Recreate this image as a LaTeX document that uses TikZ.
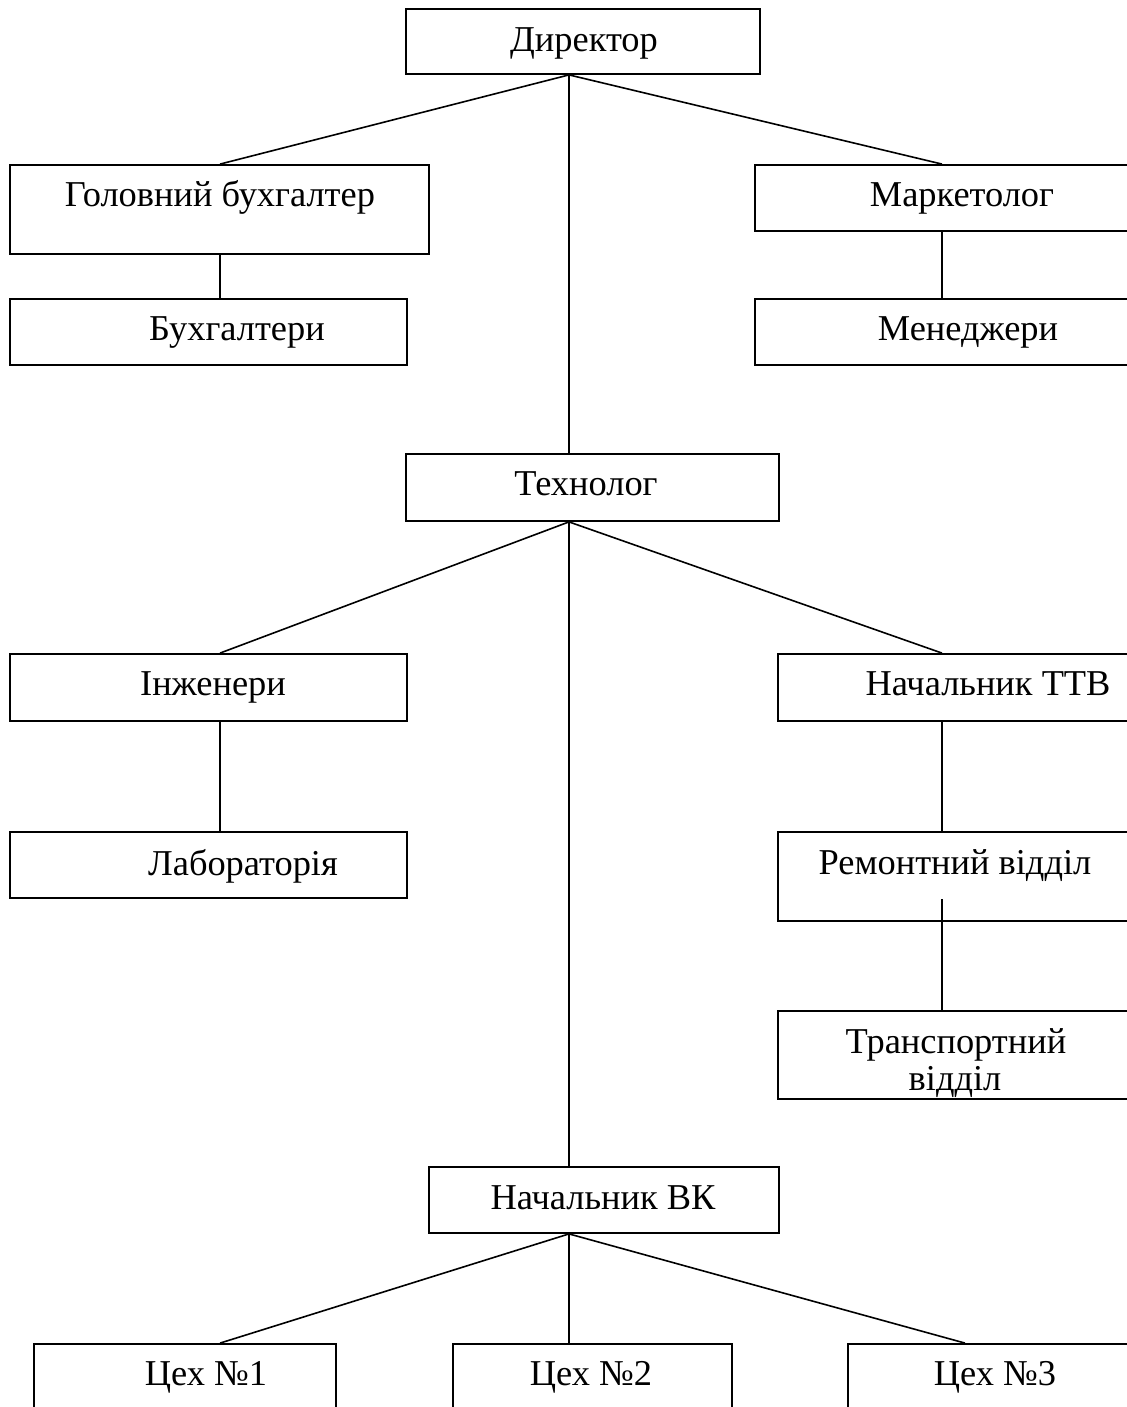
\documentclass[tikz,border=0pt]{standalone}
\usepackage{fontspec}
\setmainfont{Liberation Serif}
\usetikzlibrary{fit}

\begin{document}
\begin{tikzpicture}[x=0.5pt, y=-0.5pt, line width=0.8pt,
        box/.style={draw, rectangle, inner sep=0pt, line width=0.9pt},
        txt/.style={anchor=base, inner sep=0pt, font=\fontsize{18.2}{20}\selectfont}]
        \useasboundingbox (0,0) rectangle (1127,1407);

        % boxes
        \node[box, fit={(406,9) (760,74)}] (dir) {};
        \node[box, fit={(10,165) (429,254)}] (gb) {};
        \node[box, fit={(755,165) (1135,231)}] (mark) {};
        \node[box, fit={(10,299) (407,365)}] (buh) {};
        \node[box, fit={(755,299) (1135,365)}] (men) {};
        \node[box, fit={(406,454) (779,521)}] (tech) {};
        \node[box, fit={(10,654) (407,721)}] (ing) {};
        \node[box, fit={(778,654) (1135,721)}] (ttv) {};
        \node[box, fit={(10,832) (407,898)}] (lab) {};
        \node[box, fit={(778,832) (1135,921)}] (rem) {};
        \node[box, fit={(778,1011) (1135,1099)}] (trans) {};
        \node[box, fit={(429,1167) (779,1233)}] (vk) {};
        \node[box, fit={(34,1344) (336,1420)}] (c1) {};
        \node[box, fit={(453,1344) (732,1420)}] (c2) {};
        \node[box, fit={(848,1344) (1135,1420)}] (c3) {};

        % texts
        \node[txt] (dir-t) at (584,52) {Директор};
        \node[txt] (gb-t) at (220,206) {Головний бухгалтер};
        \node[txt] (mark-t) at (962,206) {Маркетолог};
        \node[txt] (buh-t) at (237,340) {Бухгалтери};
        \node[txt] (men-t) at (968,340) {Менеджери};
        \node[txt] (tech-t) at (586,495) {Технолог};
        \node[txt] (ing-t) at (213,695) {Інженери};
        \node[txt] (ttv-t) at (988,695) {Начальник ТТВ};
        \node[txt] (lab-t) at (243,875) {Лабораторія};
        \node[txt] (rem-t) at (955,874) {Ремонтний відділ};
        \node[txt] (trans-t1) at (956,1053) {Транспортний};
        \node[txt] (trans-t2) at (955,1090) {відділ};
        \node[txt] (vk-t) at (603,1209) {Начальник ВК};
        \node[txt] (c1-t) at (206,1385) {Цех №1};
        \node[txt] (c2-t) at (591,1385) {Цех №2};
        \node[txt] (c3-t) at (995,1385) {Цех №3};

        % columns of the connectors
        \coordinate (trunk) at (569,0);
        \coordinate (lcol) at (220,0);
        \coordinate (rcol) at (942,0);
        \coordinate (ccol) at (965,0);
        \coordinate (r1) at (942,899);

        \draw (dir.south -| trunk) -- (gb.north -| lcol);
        \draw (dir.south -| trunk) -- (mark.north -| rcol);
        \draw (dir.south -| trunk) -- (tech.north -| trunk);
        \draw (gb.south -| lcol) -- (buh.north -| lcol);
        \draw (mark.south -| rcol) -- (men.north -| rcol);
        \draw (tech.south -| trunk) -- (ing.north -| lcol);
        \draw (tech.south -| trunk) -- (ttv.north -| rcol);
        \draw (tech.south -| trunk) -- (vk.north -| trunk);
        \draw (ing.south -| lcol) -- (lab.north -| lcol);
        \draw (ttv.south -| rcol) -- (rem.north -| rcol);
        \draw (r1) -- (trans.north -| rcol);
        \draw (vk.south -| trunk) -- (c1.north -| lcol);
        \draw (vk.south -| trunk) -- (c2.north -| trunk);
        \draw (vk.south -| trunk) -- (c3.north -| ccol);
    \end{tikzpicture}
\end{document}
